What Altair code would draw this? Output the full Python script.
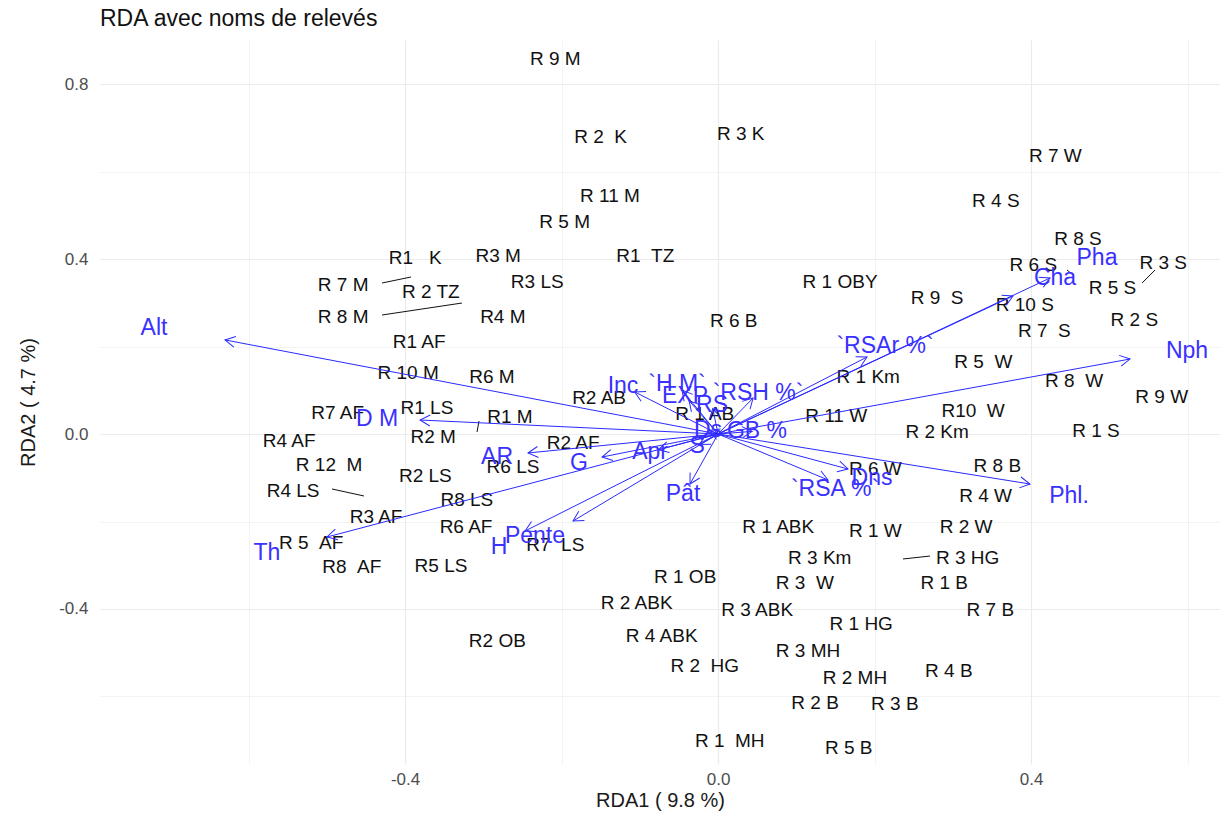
import math
import altair as alt
import pandas as pd

# ---------------- data ----------------
site_names = [
    "R 9 M", "R 2  K", "R 3 K", "R 7 W", "R 4 S", "R 11 M", "R 5 M", "R 8 S",
    "R1   K", "R3 M", "R1  TZ", "R 6 S", "R 3 S", "R 7 M", "R 2 TZ", "R3 LS",
    "R 1 OBY", "R 5 S", "R 9  S", "R 10 S", "R 8 M", "R4 M", "R 6 B", "R 7  S",
    "R 2 S", "R1 AF", "R 5  W", "R 10 M", "R6 M", "R 1 Km", "R 8  W", "R 9 W",
    "R2 AB", "R 1 AB", "R7 AF", "R1 LS", "R1 M", "R 11 W", "R10  W", "R2 M",
    "R4 AF", "R 2 Km", "R 1 S", "R2 AF", "R6 LS", "R 12  M", "R2 LS", "R 6 W",
    "R 8 B", "R 4 W", "R4 LS", "R8 LS", "R3 AF", "R6 AF", "R 1 ABK", "R 1 W",
    "R 2 W", "R 5  AF", "R7  LS", "R 3 Km", "R 3 HG", "R8  AF", "R5 LS", "R 1 OB",
    "R 3  W", "R 1 B", "R 2 ABK", "R 3 ABK", "R 7 B", "R 1 HG", "R 4 ABK", "R2 OB",
    "R 3 MH", "R 2  HG", "R 2 MH", "R 4 B", "R 2 B", "R 3 B", "R 1  MH", "R 5 B",
]
site_x = [
    -0.208, -0.150, 0.029, 0.431, 0.355, -0.138, -0.196, 0.460,
    -0.387, -0.281, -0.093, 0.403, 0.569, -0.479, -0.367, -0.231,
    0.156, 0.504, 0.280, 0.392, -0.479, -0.275, 0.020, 0.417,
    0.532, -0.382, 0.339, -0.396, -0.289, 0.192, 0.455, 0.567,
    -0.152, -0.017, -0.486, -0.372, -0.266, 0.151, 0.326, -0.364,
    -0.548, 0.280, 0.483, -0.185, -0.262, -0.497, -0.374, 0.201,
    0.357, 0.342, -0.543, -0.321, -0.437, -0.322, 0.077, 0.201,
    0.317, -0.520, -0.208, 0.130, 0.319, -0.468, -0.354, -0.042,
    0.111, 0.289, -0.104, 0.050, 0.348, 0.183, -0.072, -0.282,
    0.115, -0.017, 0.175, 0.295, 0.124, 0.226, 0.015, 0.167,
]
site_y = [
    0.857, 0.679, 0.686, 0.635, 0.533, 0.544, 0.485, 0.446,
    0.402, 0.407, 0.407, 0.386, 0.391, 0.341, 0.325, 0.347,
    0.347, 0.334, 0.311, 0.295, 0.267, 0.267, 0.258, 0.235,
    0.261, 0.210, 0.165, 0.139, 0.130, 0.130, 0.121, 0.085,
    0.082, 0.046, 0.048, 0.059, 0.039, 0.041, 0.053, -0.007,
    -0.016, 0.005, 0.007, -0.021, -0.075, -0.071, -0.096, -0.080,
    -0.073, -0.142, -0.130, -0.151, -0.190, -0.213, -0.213, -0.222,
    -0.213, -0.249, -0.254, -0.283, -0.283, -0.304, -0.302, -0.327,
    -0.341, -0.341, -0.386, -0.402, -0.402, -0.434, -0.462, -0.473,
    -0.496, -0.530, -0.558, -0.542, -0.615, -0.617, -0.702, -0.718,
]

env_names = [
    "Alt", "Nph", "Pha", "Cha", "`RSAr %`", "Phl.", "Dns", "`RSA %`", "Pât",
    "Pente", "H", "Th", "G", "AR", "D M", "Apr", "S", "Inc", "`H M`", "EXP",
    "`RSH %`", "RS", "Ds", "GB %",
]
env_tip_x = [
    -0.630, 0.5265, 0.4243, 0.377, 0.1904, 0.3987, 0.1661, 0.1406, -0.0358,
    -0.1853, -0.2466, -0.4997, -0.1482, -0.2428, -0.3808, -0.0762, -0.0235,
    -0.1065, -0.0460, -0.0370, 0.0448, -0.0067, -0.0112, 0.0437,
]
env_tip_y = [
    0.215, 0.1714, 0.3566, 0.3154, 0.176, -0.1143, -0.080, -0.1051, -0.1143,
    -0.1989, -0.2217, -0.2354, -0.0526, -0.0434, 0.032, -0.0361, -0.0241,
    0.0962, 0.1003, 0.0762, 0.0822, 0.0581, 0.008, 0.006,
]
env_lab_x = [
    -0.7208, 0.5994, 0.4843, 0.4307, 0.2134, 0.4486, 0.1968, 0.1495, -0.0447,
    -0.2339, -0.2799, -0.5764, -0.1776, -0.2824, -0.4358, -0.0869, -0.0268,
    -0.1214, -0.0524, -0.0422, 0.0511, -0.0077, -0.0128, 0.0498,
]
env_lab_y = [
    0.2423, 0.1897, 0.4023, 0.3566, 0.2011, -0.1417, -0.1006, -0.1257, -0.1371,
    -0.2331, -0.2583, -0.2720, -0.0663, -0.0526, 0.0343, -0.0411, -0.0274,
    0.1097, 0.1143, 0.0869, 0.0937, 0.0663, 0.0091, 0.0069,
]

# label repel segments (label -> point)
seg_x = [-0.4294, -0.4294, -0.4933, -0.3054, 0.4460, 0.5585, 0.2364]
seg_y = [0.3451, 0.2720, -0.1257, 0.0297, 0.3750, 0.3749, -0.2857]
seg_x2 = [-0.3923, -0.3272, -0.4524, -0.3080, 0.4537, 0.5419, 0.2709]
seg_y2 = [0.3589, 0.2994, -0.1417, 0.0046, 0.3634, 0.3451, -0.2789]

grid_vals = [-0.6, -0.4, -0.2, 0.0, 0.2, 0.4, 0.6, 0.8]

# ---------------- layout ----------------
W, H = 1120, 724
XDOM = [-0.7898, 0.6415]
YDOM = [-0.7543, 0.9006]
FONT = "Liberation Sans"
BLUE_LINE = "#2a2aff"
BLUE_TEXT = "#3a30ff"

ppx = W / (XDOM[1] - XDOM[0])
ppy = H / (YDOM[1] - YDOM[0])

sites = pd.DataFrame({
    "label": [s.replace("  ", " \u00a0") for s in site_names],
    "x": site_x, "y": site_y,
})
env = pd.DataFrame({
    "label": env_names,
    "x0": [0.0] * len(env_names), "y0": [0.0] * len(env_names),
    "tx": env_tip_x, "ty": env_tip_y,
    "lx": env_lab_x, "ly": env_lab_y,
})
env["ang"] = [
    math.degrees(math.atan2(-ty * ppy, tx * ppx)) % 360
    for tx, ty in zip(env_tip_x, env_tip_y)
]
segs = pd.DataFrame({"x": seg_x, "y": seg_y, "x2": seg_x2, "y2": seg_y2})

major_test = "round(datum.value*10) % 4 == 0"
label_expr = ("round(datum.value*10) % 4 == 0 ? "
              "replace(format(datum.value, '.1f'), '\u2212', '-') : ''")


def axis(title, **kw):
    return alt.Axis(
        values=grid_vals, labelExpr=label_expr, title=title,
        domain=False, ticks=False,
        gridColor="#EBEBEB",
        gridWidth={"condition": {"test": major_test, "value": 1.2}, "value": 0.6},
        labelColor="#4D4D4D", labelFont=FONT, labelFontSize=17,
        titleFont=FONT, titleFontSize=20, titleFontWeight="normal",
        titleColor="#1a1a1a", **kw,
    )


xs = alt.Scale(domain=XDOM, nice=False, zero=False)
ys = alt.Scale(domain=YDOM, nice=False, zero=False)

base_x = lambda f: alt.X(f, type="quantitative", scale=xs,
                         axis=axis("RDA1 ( 9.8 %)", labelPadding=7, titlePadding=3))
base_y = lambda f: alt.Y(f, type="quantitative", scale=ys,
                         axis=axis("RDA2 ( 4.7 %)", labelPadding=12, titlePadding=20))

site_text = alt.Chart(sites).mark_text(
    font=FONT, fontSize=19, color="#111111", align="center", baseline="middle"
).encode(x=base_x("x"), y=base_y("y"), text="label:N")

seg_rules = alt.Chart(segs).mark_rule(color="#111111", strokeWidth=1).encode(
    x=base_x("x"), y=base_y("y"), x2="x2:Q", y2="y2:Q"
)

arrows = alt.Chart(env).mark_rule(color=BLUE_LINE, strokeWidth=1).encode(
    x=base_x("x0"), y=base_y("y0"), x2="tx:Q", y2="ty:Q"
)

heads = alt.Chart(env).mark_point(
    shape="M -1 -0.55 L 0 0 L -1 0.55", filled=False, color=BLUE_LINE,
    strokeWidth=1, size=400, opacity=1
).encode(x=base_x("tx"), y=base_y("ty"), angle=alt.Angle("ang:Q", scale=None))

env_text = alt.Chart(env).mark_text(
    font=FONT, fontSize=23, color=BLUE_TEXT, align="center", baseline="middle"
).encode(x=base_x("lx"), y=base_y("ly"), text="label:N")

chart = alt.layer(site_text, seg_rules, arrows, heads, env_text).properties(
    width=W, height=H,
    autosize=alt.AutoSizeParams(type="none"),
    padding={"left": 92, "top": 32, "right": 0, "bottom": 50},
    background="white",
    title=alt.TitleParams(
        "RDA avec noms de relevés", anchor="start", frame="group",
        font=FONT, fontSize=23, fontWeight="normal", color="#111111", offset=9,
    ),
).configure_view(stroke=None)

chart.save("out.html", embed_options={"renderer": "svg", "actions": False})
